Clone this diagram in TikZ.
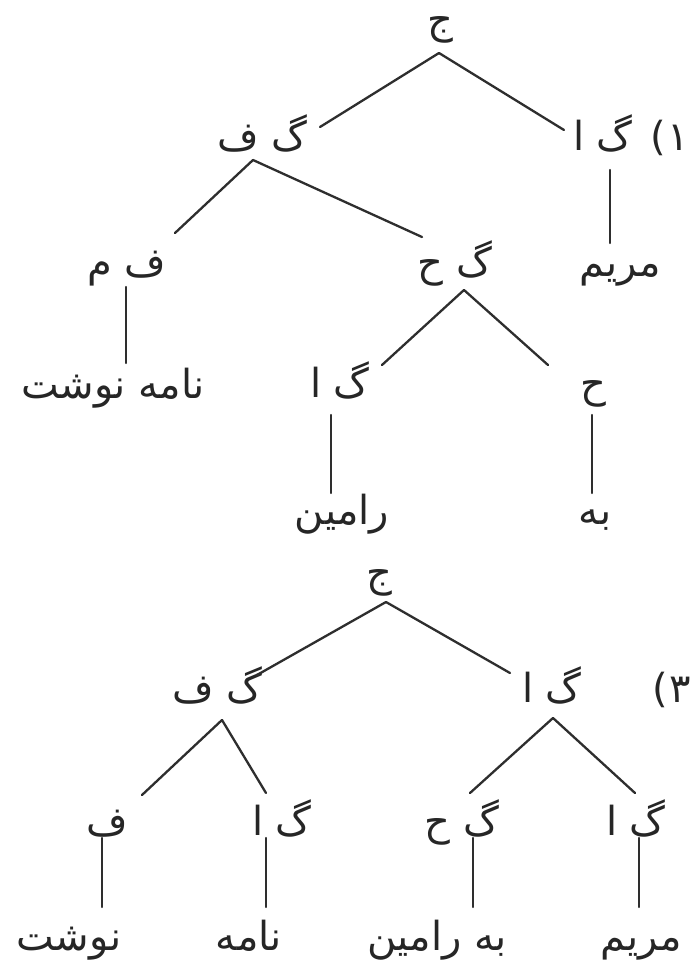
\documentclass[tikz,border=0pt]{standalone}
\usepackage{fontspec}
\TeXXeTstate=1
\newfontfamily\arabicfont[Script=Arabic]{DejaVu Sans}
\newfontfamily\plainsans{DejaVu Sans}
\newcommand\artext[1]{\beginR #1\endR}
\begin{document}
\begin{tikzpicture}[x=1pt,y=-1pt,
  lbl/.style={inner sep=0pt, anchor=base, text=black!85, font=\fontsize{40}{48}\selectfont\arabicfont},
  edge/.style={line width=2.3pt, draw=black!82, line cap=round}]
\fill[white] (0,0) rectangle (696,970);
\useasboundingbox (0,0) rectangle (696,970);

% ---------- tree 1 ----------
\node[lbl] (j1)   at (440,33)  {\artext{ج}};
\node[lbl] (vf1)  at (262,150) {\artext{گ ف}};
\node[lbl] (na1)  at (603,150) {\artext{گ ا}};
\node[lbl] (lab1) at (670,150) {{\plainsans(}\kern1pt{\arabicfont ۱}};
\node[lbl] (fm)   at (127,276) {\artext{ف م}};
\node[lbl] (gh1)  at (455,276) {\artext{گ ح}};
\node[lbl] (mar1) at (620,276) {\artext{مریم}};
\node[lbl] (nn)   at (113,398) {\artext{نامه نوشت}};
\node[lbl] (na2)  at (340,397) {\artext{گ ا}};
\node[lbl] (h1)   at (593,397) {\artext{ح}};
\node[lbl] (ram)  at (342,524) {\artext{رامین}};
\node[lbl] (be)   at (595,524) {\artext{به}};

\draw[edge] ([shift={(-1,20)}]j1.base) -- ([shift={(58,-23)}]vf1.base);
\draw[edge] ([shift={(-1,20)}]j1.base) -- ([shift={(-39,-20)}]na1.base);
\draw[edge] ([shift={(-9,10)}]vf1.base) -- ([shift={(48,-43)}]fm.base);
\draw[edge] ([shift={(-9,10)}]vf1.base) -- ([shift={(-33,-39)}]gh1.base);
\draw[edge] ([shift={(7,20)}]na1.base) -- ([shift={(-10,-33)}]mar1.base);
\draw[edge] ([shift={(-1,11)}]fm.base) -- ([shift={(13,-35)}]nn.base);
\draw[edge] ([shift={(9,14)}]gh1.base) -- ([shift={(42,-32)}]na2.base);
\draw[edge] ([shift={(9,14)}]gh1.base) -- ([shift={(-45,-32)}]h1.base);
\draw[edge] ([shift={(-9,18)}]na2.base) -- ([shift={(-11,-31)}]ram.base);
\draw[edge] ([shift={(-1,18)}]h1.base) -- ([shift={(-3,-31)}]be.base);

% ---------- tree 2 ----------
\node[lbl] (j2)   at (379,586) {\artext{ج}};
\node[lbl] (vf2)  at (217,702) {\artext{گ ف}};
\node[lbl] (na3)  at (552,702) {\artext{گ ا}};
\node[lbl] (lab3) at (672,702) {{\plainsans(}\kern1pt{\arabicfont ۳}};
\node[lbl] (f2)   at (107,835) {\artext{ف}};
\node[lbl] (na4)  at (282,835) {\artext{گ ا}};
\node[lbl] (gh2)  at (462,835) {\artext{گ ح}};
\node[lbl] (na5)  at (636,835) {\artext{گ ا}};
\node[lbl] (nos)  at (69,950)  {\artext{نوشت}};
\node[lbl] (nam)  at (249,950) {\artext{نامه}};
\node[lbl] (brm)  at (437,950) {\artext{به رامین}};
\node[lbl] (mar2) at (641,950) {\artext{مریم}};

\draw[edge] ([shift={(7,16)}]j2.base) -- ([shift={(40,-27)}]vf2.base);
\draw[edge] ([shift={(7,16)}]j2.base) -- ([shift={(-42,-29)}]na3.base);
\draw[edge] ([shift={(5,18)}]vf2.base) -- ([shift={(35,-40)}]f2.base);
\draw[edge] ([shift={(5,18)}]vf2.base) -- ([shift={(-16,-42)}]na4.base);
\draw[edge] ([shift={(1,16)}]na3.base) -- ([shift={(8,-42)}]gh2.base);
\draw[edge] ([shift={(1,16)}]na3.base) -- ([shift={(-1,-42)}]na5.base);
\draw[edge] ([shift={(-5,3)}]f2.base) -- ([shift={(33,-43)}]nos.base);
\draw[edge] ([shift={(-16,3)}]na4.base) -- ([shift={(17,-43)}]nam.base);
\draw[edge] ([shift={(11,3)}]gh2.base) -- ([shift={(36,-43)}]brm.base);
\draw[edge] ([shift={(3,3)}]na5.base) -- ([shift={(-2,-43)}]mar2.base);
\end{tikzpicture}
\end{document}
